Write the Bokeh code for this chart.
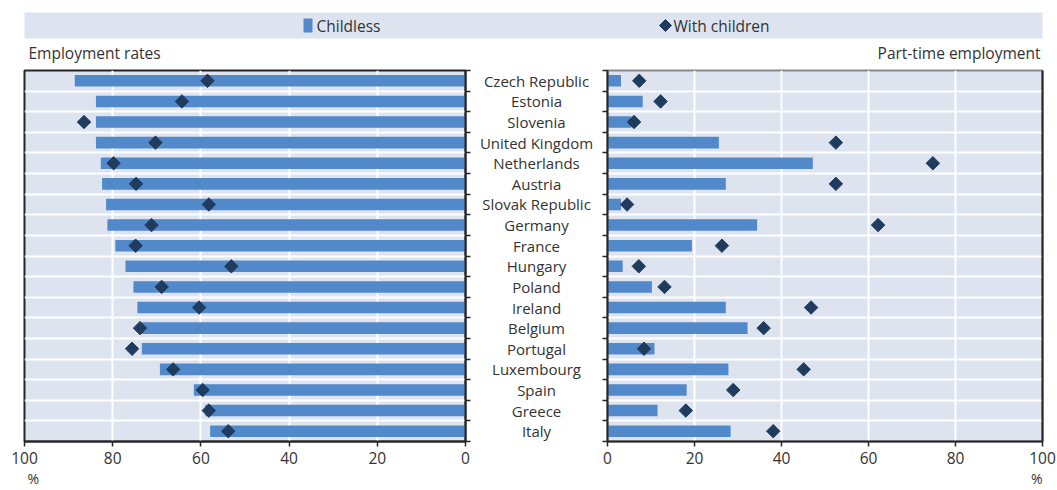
import numpy as np
from bokeh.plotting import figure
from bokeh.models import Range1d, FixedTicker, Title, ColumnDataSource, LinearAxis
from bokeh.layouts import column, row
from bokeh.embed import file_html
from bokeh.resources import INLINE
from bokeh.core.properties import value

countries = ["Czech Republic", "Estonia", "Slovenia", "United Kingdom", "Netherlands",
             "Austria", "Slovak Republic", "Germany", "France", "Hungary", "Poland",
             "Ireland", "Belgium", "Portugal", "Luxembourg", "Spain", "Greece", "Italy"]
emp_childless = [88.6, 83.8, 83.8, 83.8, 82.7, 82.4, 81.5, 81.2, 79.4, 77.1, 75.3,
                 74.4, 73.4, 73.4, 69.3, 61.6, 59.0, 57.9]
emp_children = [58.5, 64.3, 86.5, 70.3, 79.8, 74.7, 58.2, 71.2, 74.8, 53.1, 68.9,
                60.4, 73.8, 75.6, 66.3, 59.6, 58.2, 53.8]
pt_childless = [3.1, 8.1, 5.5, 25.6, 47.2, 27.2, 3.1, 34.4, 19.4, 3.5, 10.2,
                27.2, 32.2, 10.8, 27.8, 18.2, 11.5, 28.3]
pt_children = [7.3, 12.2, 6.1, 52.5, 74.8, 52.5, 4.5, 62.2, 26.3, 7.2, 13.1,
               46.8, 35.9, 8.4, 45.1, 28.9, 18.0, 38.1]
x_ticks = [0, 20, 40, 60, 80, 100]
legend_labels = ["Childless", "With children"]
panel_titles = ["Employment rates", "Part-time employment"]

BG = "#dde4f0"
BAR = "#5289cb"
NAVY = "#1f3b5e"
DARK = "#262626"
TXT = "#333333"
FONT = "Open Sans"

n = len(countries)
ypos = [n - 1 - i for i in range(n)]
bounds = [k - 0.5 for k in range(n + 1)]

src = ColumnDataSource(dict(y=ypos, country=countries,
                            emp_c=emp_childless, emp_k=emp_children,
                            pt_c=pt_childless, pt_k=pt_children))

FH = 371
TOP = 2
BOT = 49


def make_panel(xr, side, frame_w, mb_l, mb_r, ccol, kcol, outline, pct_align, pct_offset):
    p = figure(frame_width=frame_w, frame_height=FH, x_range=xr,
               y_range=Range1d(-0.5, n - 0.5), toolbar_location=None,
               output_backend="svg", y_axis_location=side,
               min_border_left=mb_l, min_border_right=mb_r,
               min_border_top=TOP, min_border_bottom=BOT,
               background_fill_color=BG, border_fill_color="white",
               outline_line_color=outline, outline_line_width=2)
    p.xgrid.ticker = FixedTicker(ticks=[20, 40, 60, 80])
    p.xgrid.grid_line_color = "white"
    p.xgrid.grid_line_width = 2
    p.ygrid.ticker = FixedTicker(ticks=bounds[1:-1])
    p.ygrid.grid_line_color = "white"
    p.ygrid.grid_line_width = 2

    p.xaxis.ticker = FixedTicker(ticks=x_ticks)
    p.yaxis.ticker = FixedTicker(ticks=[], minor_ticks=bounds)
    p.axis.axis_line_color = DARK
    p.axis.axis_line_width = 2
    p.xaxis.minor_tick_line_color = None
    p.xaxis.major_tick_line_color = DARK
    p.xaxis.major_tick_line_width = 1.5
    p.xaxis.major_tick_in = 0
    p.xaxis.major_tick_out = 5
    p.yaxis.major_tick_line_color = None
    p.yaxis.minor_tick_line_color = DARK
    p.yaxis.minor_tick_line_width = 1.5
    p.yaxis.minor_tick_in = 0
    p.yaxis.minor_tick_out = 5
    p.xaxis.major_label_text_font = FONT
    p.xaxis.major_label_text_font_size = "15.5px"
    p.xaxis.major_label_text_color = TXT
    p.xaxis.major_label_standoff = 5

    p.hbar(y="y", left=0, right=ccol, height=0.56, source=src,
           fill_color=BAR, line_color=None)
    p.scatter(x=kcol, y="y", marker="square", angle=np.pi / 4, size=9.5,
              source=src, fill_color=NAVY, line_color=NAVY)

    p.add_layout(Title(text="%", align=pct_align, offset=pct_offset, standoff=0,
                       text_font=FONT, text_font_size="14px",
                       text_font_style="normal", text_color=TXT), "below")
    return p


left = make_panel(Range1d(100, 0), "right", 441, 24, 10, "emp_c", "emp_k",
                  DARK, "left", 3)
right = make_panel(Range1d(0, 100), "left", 435, 10, 14, "pt_c", "pt_k",
                   "#8a8a8a", "right", 0)
edge = LinearAxis(ticker=FixedTicker(ticks=[]), axis_line_color=DARK,
                  axis_line_width=2, major_tick_line_color=None,
                  minor_tick_line_color=None, major_label_text_font_size="0px")
right.add_layout(edge, "right")

mid = figure(width=122, frame_height=FH, x_range=Range1d(-1, 1),
             y_range=Range1d(-0.5, n - 0.5), toolbar_location=None,
             output_backend="svg", x_axis_location=None, y_axis_location=None,
             min_border_left=0, min_border_right=0,
             min_border_top=TOP, min_border_bottom=BOT,
             outline_line_color=None)
mid.grid.visible = False
mid.text(x=0, y="y", text="country", source=src, text_align="center",
         text_baseline="middle", text_font=value(FONT), text_font_size="15px",
         text_color=TXT)

# header with legend band and panel subtitles (screen-like coordinates)
hdr = figure(width=1056, height=68, x_range=Range1d(0, 1056),
             y_range=Range1d(68, 0), toolbar_location=None, output_backend="svg",
             x_axis_location=None, y_axis_location=None, min_border=0,
             outline_line_color=None)
hdr.grid.visible = False
hdr.quad(left=24, right=1042, top=12, bottom=38, fill_color=BG, line_color=None)
hdr.quad(left=303, right=312, top=18, bottom=32, fill_color=BAR, line_color=None)
hdr.scatter(x=[665], y=[25], marker="square", angle=np.pi / 4, size=8.5,
            fill_color=NAVY, line_color=NAVY)
hdr.text(x=[316, 673], y=[25, 25], text=legend_labels, text_align="left",
         text_baseline="middle", text_font=value(FONT), text_font_size="15.5px",
         text_color=TXT)
hdr.text(x=[28], y=[52], text=[panel_titles[0]], text_align="left",
         text_baseline="middle", text_font=value(FONT), text_font_size="15.5px",
         text_color=TXT)
hdr.text(x=[1040], y=[52], text=[panel_titles[1]], text_align="right",
         text_baseline="middle", text_font=value(FONT), text_font_size="15.5px",
         text_color=TXT)

layout = column(hdr, row(left, mid, right, spacing=0), spacing=0)

open("out.html", "w").write(file_html(layout, INLINE))
